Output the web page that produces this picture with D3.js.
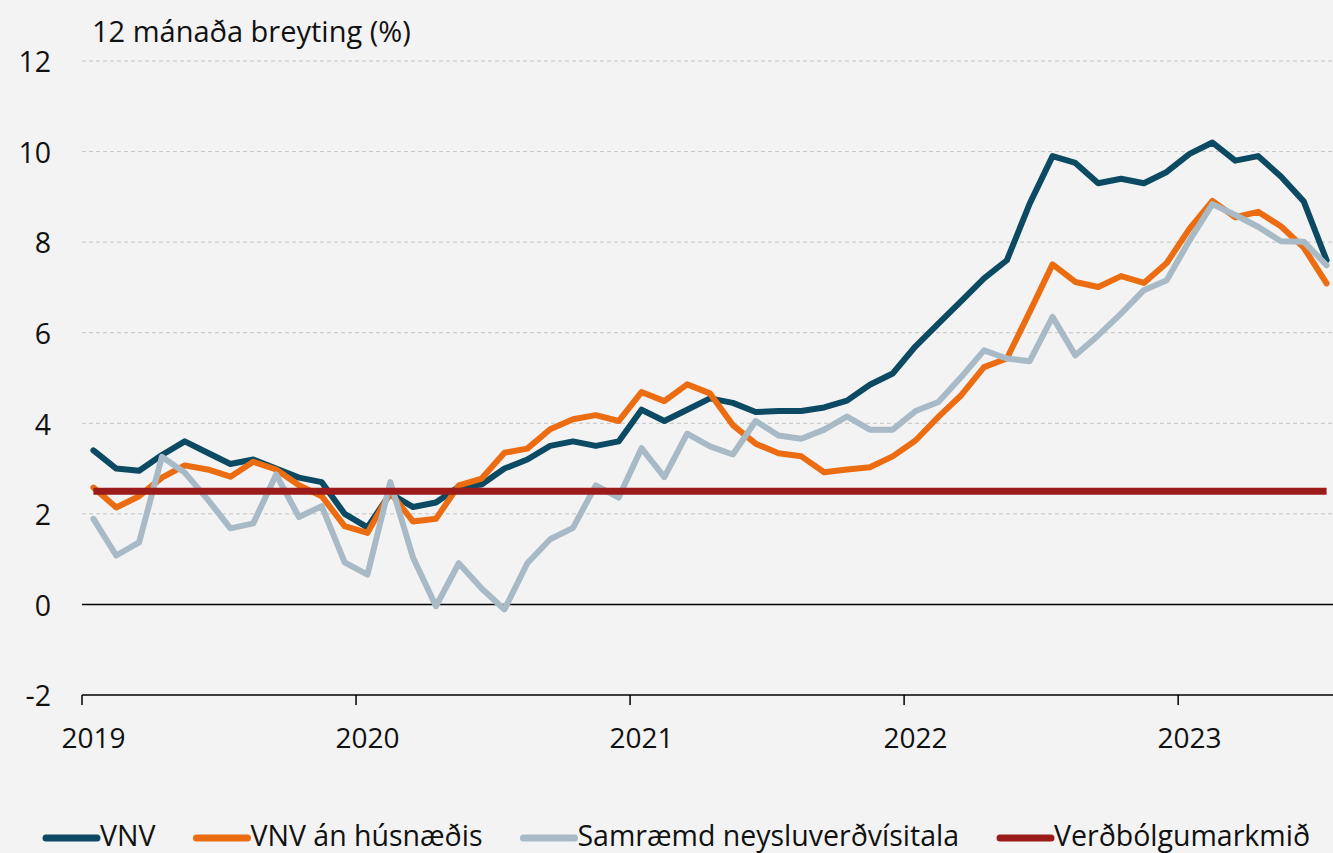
<!DOCTYPE html>
<html>
<head>
<meta charset="utf-8">
<script src="https://cdn.jsdelivr.net/npm/d3@7"></script>
<style>
  html, body { margin: 0; padding: 0; background: #f3f3f3; }
  svg { display: block; font-family: "Open Sans", Lato, sans-serif; }
</style>
</head>
<body>
<svg id="chart"></svg>
<script>
const WIDTH  = 1333;
const HEIGHT = 853;

// 12 month change, Jan 2019 - Jul 2023
const years = ['2019', '2020', '2021', '2022', '2023'];
const yTicks = [-2, 0, 2, 4, 6, 8, 10, 12];

const vnv = [
  3.4, 3.0, 2.95, 3.3, 3.6, 3.35, 3.1, 3.2, 3.0, 2.8, 2.7, 2.0,
  1.7, 2.45, 2.15, 2.25, 2.6, 2.65, 3.0, 3.2, 3.5, 3.6, 3.5, 3.6,
  4.3, 4.05, 4.3, 4.55, 4.45, 4.25, 4.27, 4.27, 4.35, 4.5, 4.85, 5.1,
  5.7, 6.2, 6.7, 7.2, 7.6, 8.85, 9.9, 9.75, 9.3, 9.4, 9.3, 9.55,
  9.95, 10.2, 9.8, 9.9, 9.45, 8.9, 7.6
];
const vnvAnHusnaedis = [
  2.58, 2.14, 2.39, 2.8, 3.07, 2.98, 2.82, 3.15, 2.98, 2.63, 2.39, 1.73,
  1.58, 2.47, 1.83, 1.89, 2.63, 2.78, 3.35, 3.44, 3.87, 4.09, 4.18, 4.05,
  4.69, 4.49, 4.86, 4.66, 3.96, 3.55, 3.34, 3.27, 2.92, 2.98, 3.03, 3.27,
  3.62, 4.14, 4.62, 5.24, 5.43, 6.46, 7.51, 7.12, 7.01, 7.25, 7.10, 7.54,
  8.30, 8.91, 8.55, 8.67, 8.35, 7.88, 7.09
];
const samraemd = [
  1.89, 1.08, 1.37, 3.26, 2.91, 2.32, 1.68, 1.79, 2.87, 1.93, 2.17, 0.93,
  0.66, 2.70, 1.03, -0.04, 0.91, 0.35, -0.11, 0.91, 1.44, 1.69, 2.63, 2.36,
  3.45, 2.81, 3.77, 3.49, 3.31, 4.05, 3.73, 3.66, 3.86, 4.15, 3.86, 3.86,
  4.27, 4.47, 5.02, 5.61, 5.43, 5.37, 6.35, 5.50, 5.94, 6.42, 6.94, 7.16,
  8.04, 8.84, 8.60, 8.34, 8.02, 8.01, 7.49
];
const markmid = 2.5;

const series = [
  { name: 'VNV',                        values: vnv,            color: '#0b4a62', width: 6 },
  { name: 'VNV án húsnæðis',            values: vnvAnHusnaedis, color: '#ec6c12', width: 6 },
  { name: 'Samræmd neysluverðvísitala', values: samraemd,       color: '#a7bac6', width: 6 },
  { name: 'Verðbólgumarkmið',           values: vnv.map(() => markmid), color: '#9b1a1a', width: 7 }
];

const svg = d3.select('#chart')
  .attr('width', WIDTH)
  .attr('height', HEIGHT);

const x = d3.scaleLinear().domain([-0.5, vnv.length - 0.5]).range([82, 1338]);
const y = d3.scaleLinear().domain([-2, 12]).range([695, 61]);

// gridlines
svg.append('g')
  .selectAll('line')
  .data(yTicks.filter(d => d > 0))
  .enter().append('line')
    .attr('x1', 82).attr('x2', WIDTH)
    .attr('y1', d => y(d)).attr('y2', d => y(d))
    .attr('stroke', '#c4c4c4')
    .attr('stroke-width', 1)
    .attr('stroke-dasharray', '4,3');

// zero line
svg.append('line')
  .attr('x1', 82).attr('x2', WIDTH)
  .attr('y1', y(0)).attr('y2', y(0))
  .attr('stroke', '#000').attr('stroke-width', 1.5);

// y labels
svg.append('g')
  .selectAll('text')
  .data(yTicks)
  .enter().append('text')
    .attr('x', 51)
    .attr('y', d => y(d) + 1)
    .attr('dy', '0.36em')
    .attr('text-anchor', 'end')
    .attr('font-size', 28.5)
    .attr('fill', '#111')
    .text(d => d);

// x axis at -2
const yearStarts = years.map((yr, i) => i * 12);
const xAxis = svg.append('g').attr('transform', `translate(0,${y(-2)})`);
xAxis.append('line')
  .attr('x1', 82).attr('x2', WIDTH)
  .attr('stroke', '#000').attr('stroke-width', 1.5);
xAxis.selectAll('.tick')
  .data(yearStarts)
  .enter().append('line')
    .attr('class', 'tick')
    .attr('x1', d => x(d - 0.5)).attr('x2', d => x(d - 0.5))
    .attr('y1', 0).attr('y2', 10)
    .attr('stroke', '#000').attr('stroke-width', 1.5);
xAxis.selectAll('.yr')
  .data(years)
  .enter().append('text')
    .attr('class', 'yr')
    .attr('x', (d, i) => x(yearStarts[i]))
    .attr('y', 53)
    .attr('text-anchor', 'middle')
    .attr('font-size', 28)
    .attr('fill', '#111')
    .text(d => d);

// title
svg.append('text')
  .attr('x', 92).attr('y', 42)
  .attr('font-size', 29)
  .attr('fill', '#111')
  .text('12 mánaða breyting (%)');

// lines
const line = d3.line()
  .x((d, i) => x(i))
  .y(d => y(d));

svg.append('g')
  .selectAll('path')
  .data(series)
  .enter().append('path')
    .attr('d', d => line(d.values))
    .attr('fill', 'none')
    .attr('stroke', d => d.color)
    .attr('stroke-width', d => d.width)
    .attr('stroke-linejoin', 'round')
    .attr('stroke-linecap', d => d.name === 'Verðbólgumarkmið' ? 'butt' : 'round');

// legend
const legend = svg.append('g').attr('transform', 'translate(0,838)');
let lx = 46;
series.forEach(s => {
  legend.append('line')
    .attr('x1', lx).attr('x2', lx + 51)
    .attr('y1', 0).attr('y2', 0)
    .attr('stroke', s.color)
    .attr('stroke-width', 7)
    .attr('stroke-linecap', 'round');
  const t = legend.append('text')
    .attr('x', lx + 54)
    .attr('y', 8)
    .attr('font-size', 28.5)
    .attr('fill', '#111')
    .text(s.name);
  lx += 54 + t.node().getComputedTextLength() + 41;
});
</script>
</body>
</html>
